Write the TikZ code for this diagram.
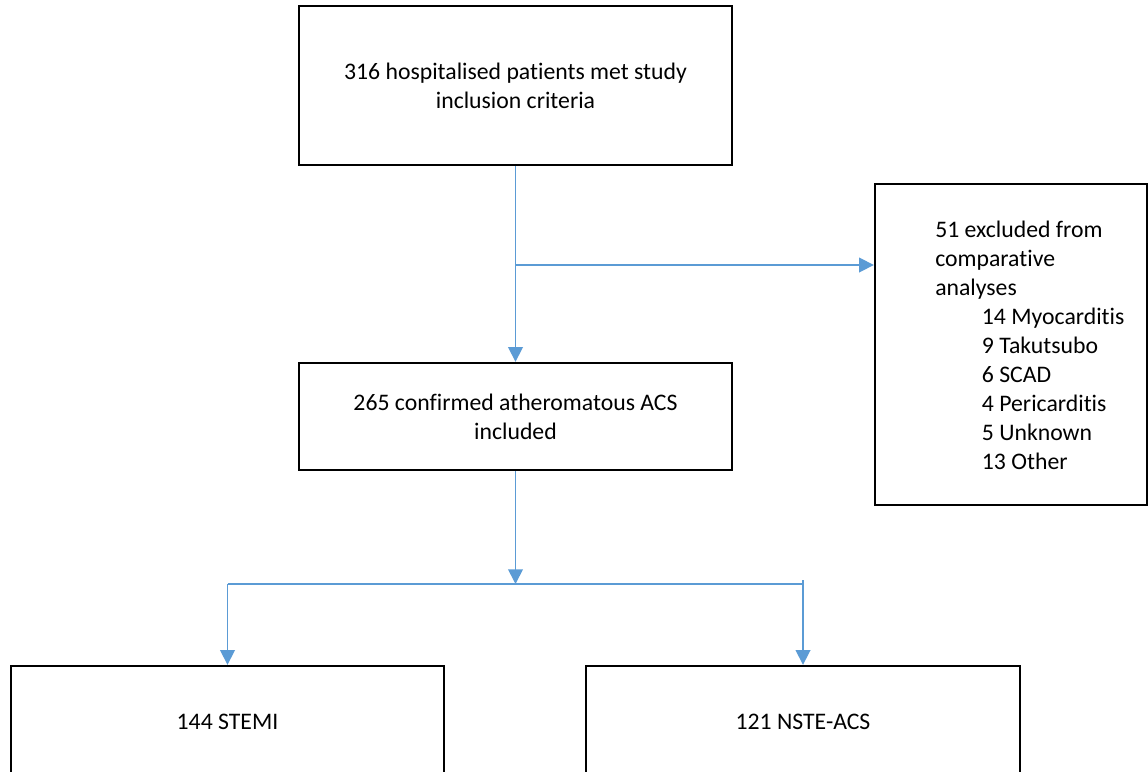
\documentclass[tikz,border=0pt]{standalone}
\usepackage{fontspec}
\setmainfont[Ligatures=NoCommon]{Carlito}
\usetikzlibrary{arrows.meta}
\definecolor{flowblue}{HTML}{5B9BD5}
\begin{document}
\begin{tikzpicture}[x=0.75pt,y=-0.75pt,
  box/.style={draw=black,line width=1.8pt,rectangle,inner sep=0pt,align=center,
    font=\fontsize{17.8pt}{21.75pt}\selectfont},
  txt/.style={inner sep=0pt,font=\fontsize{17.8pt}{21.75pt}\selectfont},
  conn/.style={draw=flowblue,line width=1.25pt},
  arr/.style={conn,-{Triangle[length=11pt,width=11pt]}}]
\useasboundingbox (0,0) rectangle (1148,771);
\node[box,minimum width=324.75pt,minimum height=119.25pt] (top) at (515.5,85.5)
  {316 hospitalised patients met study\\inclusion criteria};
\node[box,minimum width=324.75pt,minimum height=80.25pt] (mid) at (515.5,416.5)
  {265 confirmed atheromatous ACS\\included};
\node[box,minimum width=204pt,minimum height=240.75pt] (excl) at (1011,344.5) {};
\node[txt,anchor=west,align=left] (excltxt) at (935,345)
  {51 excluded from\\comparative\\analyses\\
   \hspace*{35pt}14 Myocarditis\\
   \hspace*{35pt}9 Takutsubo\\
   \hspace*{35pt}6 SCAD\\
   \hspace*{35pt}4 Pericarditis\\
   \hspace*{35pt}5 Unknown\\
   \hspace*{35pt}13 Other};
\node[box,minimum width=324.75pt,minimum height=84pt] (stemi) at (227.5,722) {144 STEMI};
\node[box,minimum width=325.5pt,minimum height=84pt] (nste) at (803,722) {121 NSTE-ACS};
\coordinate (b1) at (515.5,265);
\coordinate (b2) at (515.5,584);
\coordinate (bl) at (227.5,584);
\coordinate (br) at (803,584);
\coordinate (brtop) at (803,580);
\draw[arr] (top.south) -- (mid.north);
\draw[arr] (b1) -- (excl.west |- b1);
\draw[arr] (mid.south) -- (b2);
\draw[conn] (bl) -- (br);
\draw[arr] (bl) -- (stemi.north);
\draw[arr] (brtop) -- (nste.north);
\end{tikzpicture}
\end{document}
